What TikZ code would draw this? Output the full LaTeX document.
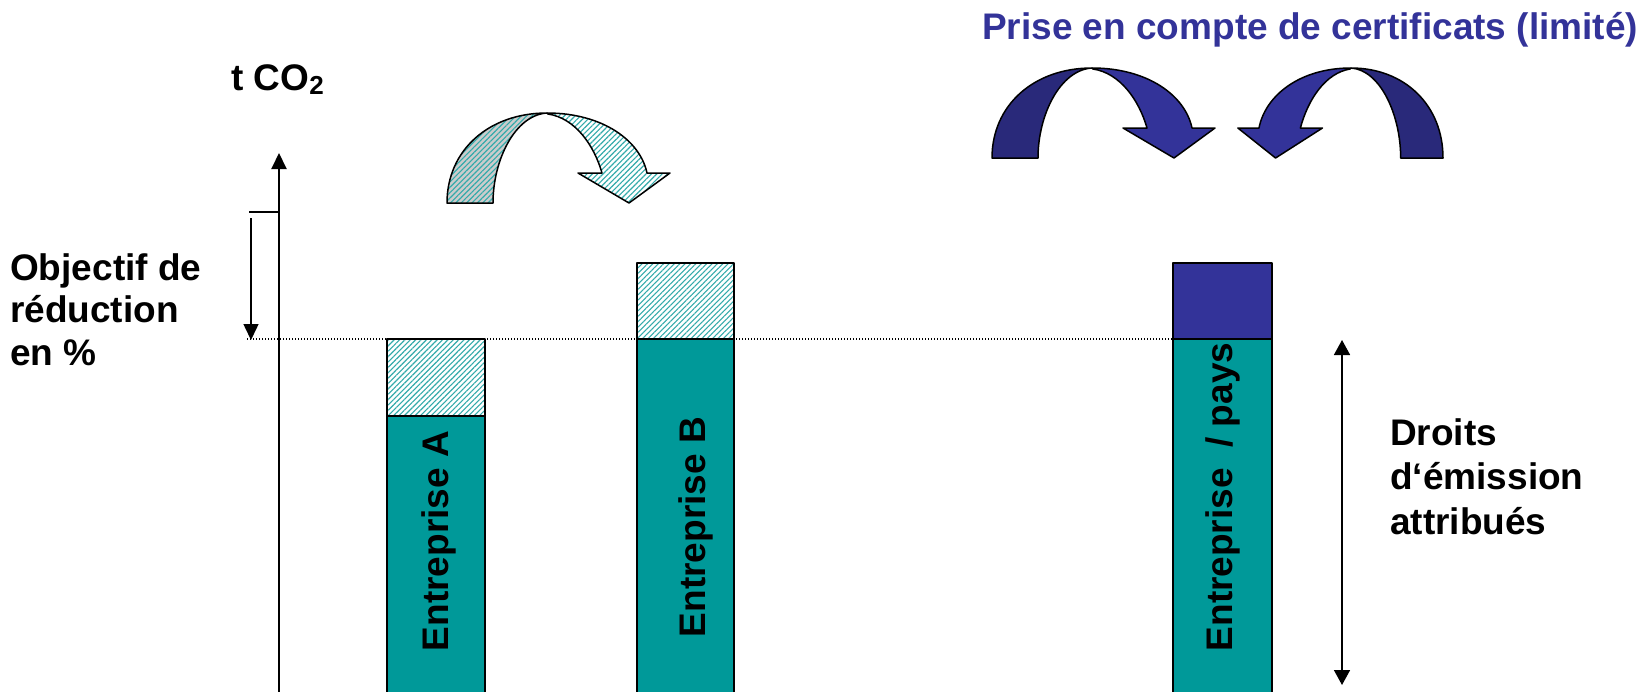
\documentclass[tikz,border=0pt]{standalone}
\usepackage{fontspec}
\setmainfont{Liberation Sans}
\usetikzlibrary{arrows.meta,patterns.meta}
\definecolor{tealc}{HTML}{009999}
\definecolor{bluec}{HTML}{333399}
\definecolor{darkbluec}{HTML}{29297A}
\definecolor{hatchc}{HTML}{33AAAA}
\definecolor{grayc}{HTML}{CCCCCC}
\tikzset{
  hatchfill/.style={pattern={Lines[angle=45,distance=3.8pt,line width=1.1pt]}, pattern color=hatchc},
  outl/.style={draw=black, line width=1.5pt, line join=round},
  hatchback/.style={preaction={fill=grayc}, hatchfill, outl},
  hatchfront/.style={preaction={fill=white}, hatchfill, outl},
  blueback/.style={fill=darkbluec, outl},
  bluefront/.style={fill=bluec, outl},
  lbl/.style={inner sep=0pt, font=\bfseries\fontsize{37}{42.5}\selectfont},
  barlbl/.style={lbl, rotate=90, anchor=base},
  axisline/.style={line width=2pt, -{Triangle[width=15pt,length=16pt]}},
  redarrow/.style={line width=1.5pt, -{Triangle[width=15pt,length=16pt]}},
  bothtip/.style={line width=1.6pt, {Triangle[width=16pt,length=15pt]}-{Triangle[width=16pt,length=15pt]}},
  dottedline/.style={line width=1.2pt, dash pattern=on 1.3pt off 1.7pt},
  bentarrow/.pic={
    \path[bentback] (0,0) .. controls (0,-53) and (42,-90) .. (100,-90)
       .. controls (68,-88) and (46,-43) .. (46,0) -- cycle;
    \path[bentfront] (100,-90) .. controls (155,-90) and (193,-63) .. (200,-30)
       -- (223,-30) -- (182,0) -- (131,-30) -- (155,-30)
       .. controls (147,-58) and (128,-85) .. (101,-89) -- cycle;
  }
}
\begin{document}
\begin{tikzpicture}[x=1pt,y=-1pt]
\useasboundingbox[fill=white] (0,0) rectangle (1652,691);
\begin{scope}
\clip (0,0) rectangle (1652,691);

% title
\node[lbl, text=bluec, anchor=base west] (title) at (982,39) {Prise en compte de certificats (limité)};

% axis label
\node[lbl, anchor=base west] (tco2) at (231,90) {t CO\raisebox{-0.22ex}{\fontsize{26}{26}\selectfont 2}};

% left label
\node[lbl, anchor=base west] (objectif) at (10,280)
  {\begin{tabular}[t]{@{}l@{}}Objectif de\\réduction\\en \%\end{tabular}};

% right label
\node[lbl, anchor=base west] (droits) at (1390,445)
  {\fontsize{37}{44.5}\selectfont\begin{tabular}[t]{@{}l@{}}Droits\\d‘émission\\attribués\end{tabular}};

% coordinates
\coordinate (axb) at (279,695);
\coordinate (axt) at (279,153);
\coordinate (tickl) at (249,212);
\coordinate (tickr) at (279,212);
\coordinate (reds) at (251,218);
\coordinate (rede) at (251,340);
\coordinate (dotl) at (247,339);
\coordinate (dotr) at (1173,339);
\coordinate (drt) at (1342,340);
\coordinate (drb) at (1342,685);

% dotted reference line
\draw[dottedline] (dotl) -- (dotr);

% bars
\draw[hatchfront] (387,339) rectangle (485,416);
\draw[outl, fill=tealc] (387,416) rectangle (485,700);
\draw[hatchfront] (637,263) rectangle (734,339);
\draw[outl, fill=tealc] (637,339) rectangle (734,700);
\draw[outl, fill=bluec] (1173,263) rectangle (1272,339);
\draw[outl, fill=tealc] (1173,339) rectangle (1272,700);

\node[barlbl] (entA) at (448,541) {Entreprise A};
\node[barlbl] (entB) at (705,527) {Entreprise B};
\node[barlbl] (entC) at (1232,497) {Entreprise\ \ / pays};

% axis and arrows
\draw[axisline] (axb) -- (axt);
\draw[line width=1.3pt] (tickl) -- (tickr);
\draw[redarrow] (reds) -- (rede);
\draw[bothtip] (drt) -- (drb);

% curved arrows
\pic[bentback/.style={hatchback}, bentfront/.style={hatchfront}] at (447,203) {bentarrow};
\pic[bentback/.style={blueback}, bentfront/.style={bluefront}] at (992,158) {bentarrow};
\pic[xscale=-0.92, bentback/.style={blueback}, bentfront/.style={bluefront}] at (1443,158) {bentarrow};
\end{scope}
\end{tikzpicture}
\end{document}
